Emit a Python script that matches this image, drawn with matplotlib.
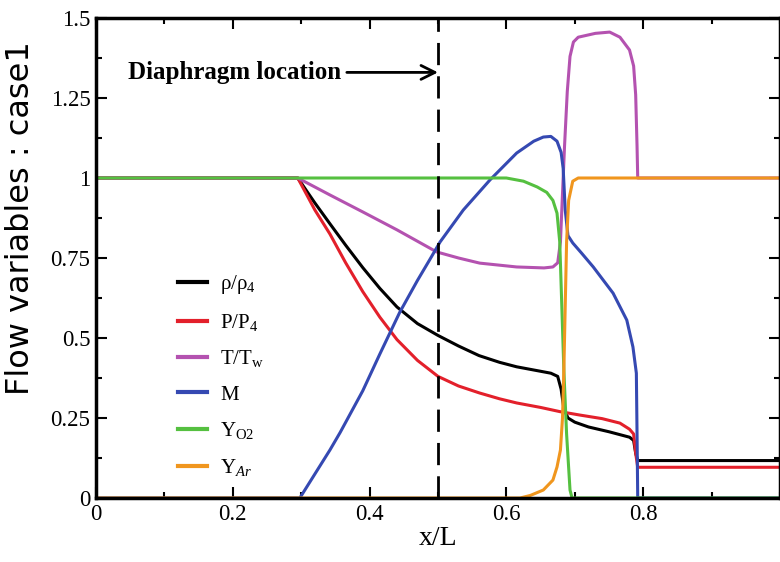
import matplotlib
matplotlib.use('Agg')
import matplotlib.pyplot as plt
from matplotlib.ticker import MultipleLocator

plt.rcParams['mathtext.fontset'] = 'custom'
plt.rcParams['mathtext.rm'] = 'Liberation Serif'
plt.rcParams['mathtext.it'] = 'Liberation Serif:italic'

# rho/rho4
x_rho = [0, 0.295, 0.32, 0.342, 0.365, 0.39, 0.415, 0.44, 0.47, 0.5, 0.53, 0.56, 0.59, 0.615, 0.645,
         0.665, 0.675, 0.68, 0.684, 0.69, 0.70, 0.72, 0.75, 0.78, 0.786, 0.789, 0.792, 1.0]
y_rho = [1, 1, 0.922, 0.857, 0.79, 0.72, 0.655, 0.597, 0.545, 0.508, 0.475, 0.445, 0.424, 0.41, 0.398,
         0.39, 0.38, 0.34, 0.28, 0.25, 0.237, 0.222, 0.207, 0.19, 0.18, 0.14, 0.117, 0.117]
# P/P4
x_p = [0, 0.295, 0.32, 0.342, 0.365, 0.39, 0.415, 0.44, 0.47, 0.5, 0.53, 0.561, 0.59, 0.615, 0.65,
       0.678, 0.708, 0.74, 0.766, 0.78, 0.786, 0.789, 0.792, 1.0]
y_p = [1, 1, 0.9, 0.825, 0.735, 0.645, 0.565, 0.495, 0.43, 0.38, 0.35, 0.328, 0.31, 0.297, 0.283,
       0.27, 0.259, 0.248, 0.234, 0.215, 0.2, 0.14, 0.096, 0.096]
# T/Tw
x_t = [0, 0.295, 0.342, 0.39, 0.44, 0.498, 0.53, 0.561, 0.615, 0.655, 0.668, 0.675, 0.679, 0.682,
       0.685, 0.689, 0.693, 0.698, 0.705, 0.73, 0.751, 0.766, 0.78, 0.786, 0.789, 0.791, 0.792, 1.0]
y_t = [1, 1, 0.947, 0.894, 0.838, 0.769, 0.75, 0.734, 0.722, 0.719, 0.722, 0.735, 0.8, 0.95,
       1.1, 1.27, 1.38, 1.425, 1.44, 1.452, 1.456, 1.44, 1.40, 1.35, 1.26, 1.1, 1.0, 1.0]
# Mach
x_m = [0, 0.298, 0.32, 0.342, 0.357, 0.39, 0.415, 0.444, 0.47, 0.488, 0.503, 0.537, 0.576, 0.615,
       0.64, 0.654, 0.665, 0.674, 0.68, 0.683, 0.686, 0.69, 0.697, 0.71, 0.727, 0.756, 0.776,
       0.785, 0.79, 0.791, 0.792, 1.0]
y_m = [0, 0, 0.075, 0.15, 0.205, 0.335, 0.45, 0.58, 0.68, 0.745, 0.8, 0.9, 0.994, 1.078,
       1.115, 1.128, 1.13, 1.115, 1.08, 1.03, 0.9, 0.82, 0.797, 0.765, 0.722, 0.64, 0.556,
       0.472, 0.39, 0.2, 0.0, 0.0]
# Y_O2
x_o2 = [0, 0.6, 0.625, 0.645, 0.659, 0.668, 0.674, 0.678, 0.681, 0.684, 0.688, 0.693, 0.696, 1.0]
y_o2 = [1, 1, 0.99, 0.972, 0.955, 0.93, 0.89, 0.8, 0.6, 0.4, 0.2, 0.025, 0, 0]
# Y_Ar
x_ar = [0, 0.62, 0.635, 0.654, 0.668, 0.674, 0.679, 0.682, 0.684, 0.686, 0.688, 0.691, 0.697, 0.705, 1.0]
y_ar = [0, 0, 0.008, 0.025, 0.056, 0.097, 0.15, 0.25, 0.4, 0.6, 0.8, 0.93, 0.99, 1.0, 1.0]

xticks = [0, 0.2, 0.4, 0.6, 0.8]
xlabels = ['0', '0.2', '0.4', '0.6', '0.8']
yticks = [0, 0.25, 0.5, 0.75, 1, 1.25, 1.5]
ylabels = ['0', '0.25', '0.5', '0.75', '1', '1.25', '1.5']

serif = 'Liberation Serif'

fig = plt.figure(figsize=(7.8, 5.62), dpi=100)
ax = fig.add_axes([96/780, 1-498/562, 684/780, 480/562])

lw = 2.2
ax.plot(x_rho, y_rho, color='black', lw=lw, label='ρ/ρ$_{4}$')
ax.plot(x_p, y_p, color='#e3202b', lw=lw, label='P/P$_{4}$')
ax.plot(x_t, y_t, color='#b452b0', lw=lw, label='T/T$_{\\rm w}$')
ax.plot(x_m, y_m, color='#3549b2', lw=lw, label='M')
ax.plot(x_o2, y_o2, color='#55c040', lw=lw, label='Y$_{\\rm O2}$')
ax.plot(x_ar, y_ar, color='#f0961e', lw=lw, label='Y$_{Ar}$')

# diaphragm
ax.plot([0.5, 0.5], [0, 1.5], color='black', lw=2, linestyle=(0, (8, 4)))
ax.annotate('Diaphragm location', xy=(0.5, 1.33), xytext=(0.047, 1.33),
            va='center', ha='left', fontsize=18, family=serif, weight='bold',
            arrowprops=dict(arrowstyle='->', lw=2, color='black',
                            mutation_scale=25, shrinkA=2, shrinkB=0))

ax.set_xlim(0, 1)
ax.set_ylim(0, 1.5)
ax.set_xticks(xticks)
ax.set_xticklabels(xlabels, family=serif, fontsize=16.5)
ax.set_yticks(yticks)
ax.set_yticklabels(ylabels, family=serif, fontsize=16.5)
ax.xaxis.set_minor_locator(MultipleLocator(0.1))
ax.yaxis.set_minor_locator(MultipleLocator(0.125))
ax.tick_params(which='both', direction='in', top=True, right=True, width=1.5)
ax.tick_params(which='major', length=8, pad=4)
ax.tick_params(which='minor', length=4)
for s in ax.spines.values():
    s.set_linewidth(2.5)

ax.set_xlabel('x/L', family=serif, fontsize=20)
ax.set_ylabel('Flow variables : case1', family='DejaVu Sans', fontsize=23)
ax.yaxis.set_label_coords(-0.088, 0.583)
ax.xaxis.set_label_coords(0.5, -0.058)

leg = ax.legend(loc='upper left', bbox_to_anchor=(0.105, 0.49), frameon=False,
                prop={'family': serif, 'size': 15}, handlelength=1.4,
                handletextpad=0.6, labelspacing=0.75, borderpad=0)
for h in leg.get_lines():
    h.set_linewidth(3)

fig.savefig('out.png', dpi=100)
